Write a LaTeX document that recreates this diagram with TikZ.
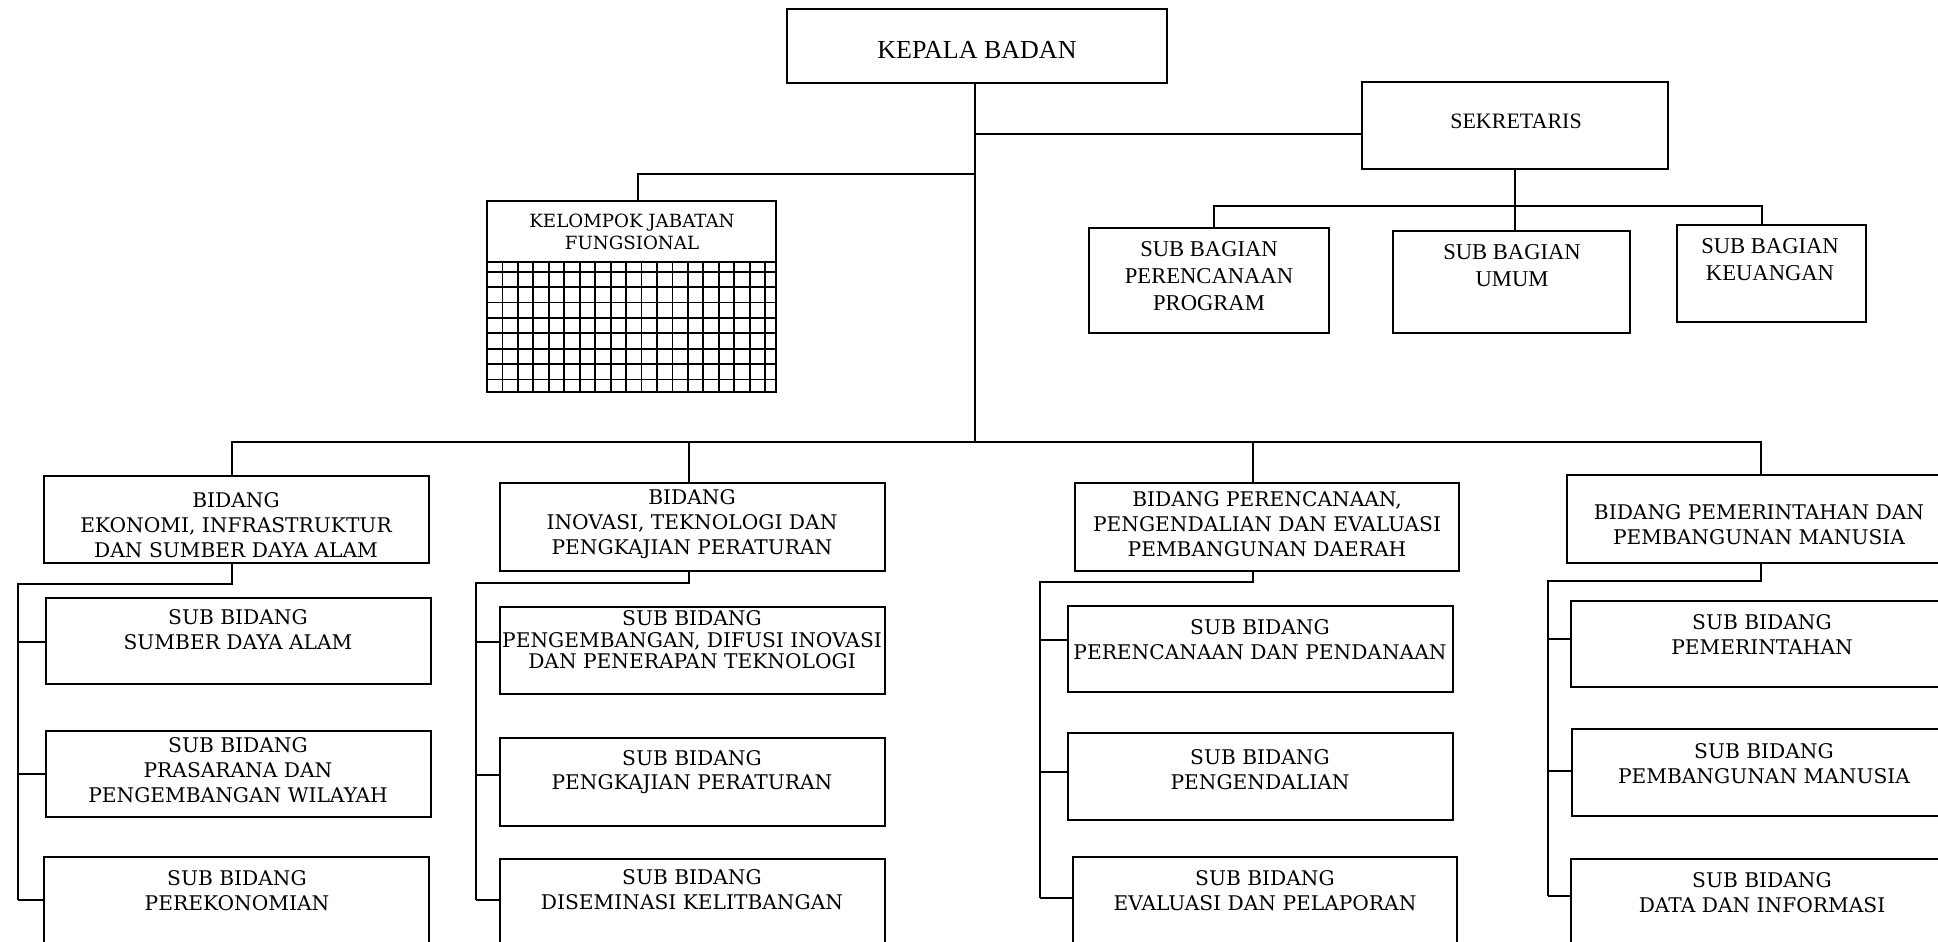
\documentclass[tikz,border=0pt]{standalone}
\usepackage{fontspec}
\newfontfamily\topfont{Liberation Serif}
\newfontfamily\bodyfont{DejaVu Serif}
\usetikzlibrary{fit}
\newcommand\obox[5]{\path (#2,#3) coordinate (#1-a) (#4,#5) coordinate (#1-b);
  \node[bx, fit=(#1-a)(#1-b)] (#1) {};}
\tikzset{
  bx/.style={draw, line width=1pt, inner sep=0pt, outer sep=0pt, rectangle},
  conn/.style={line width=1pt},
  gridline/.style={line width=0.9pt},
  lbl/.style={align=center, inner sep=0pt, font=\bodyfont\fontsize{10.1}{12.4}\selectfont},
  lbltight/.style={align=center, inner sep=0pt, font=\bodyfont\fontsize{10.1}{10.8}\selectfont},
  lblk/.style={align=center, inner sep=0pt, font=\bodyfont\fontsize{9.1}{10.8}\selectfont},
  lbltop/.style={align=center, inner sep=0pt, font=\topfont\fontsize{11.3}{13.5}\selectfont},
}
\begin{document}
\begin{tikzpicture}[x=0.5pt, y=-0.5pt]
\useasboundingbox (0,0) rectangle (1938,942);
\clip (0,0) rectangle (1938,942);
% ---------- top ----------
\obox{kepala}{787}{9}{1167}{83}
\node[lbltop, font=\topfont\fontsize{13}{15}\selectfont] (kepala-t) at (977,50) {KEPALA BADAN};
\obox{sek}{1362}{82}{1668}{169}
\node[lbltop, font=\topfont\fontsize{11}{13}\selectfont] (sek-t) at (1516,121) {SEKRETARIS};
\obox{sbp}{1089}{228}{1329}{333}
\node[lbltop] (sbp-t) at (1209,276) {SUB BAGIAN\\PERENCANAAN\\PROGRAM};
\obox{sbu}{1393}{231}{1630}{333}
\node[lbltop] (sbu-t) at (1512,266) {SUB BAGIAN\\UMUM};
\obox{sbk}{1677}{225}{1866}{322}
\node[lbltop] (sbk-t) at (1770,260) {SUB BAGIAN\\KEUANGAN};
% kelompok jabatan fungsional
\obox{kjf}{487}{201}{776}{392}
\node[lblk] (kjf-t) at (632,232) {KELOMPOK JABATAN\\FUNGSIONAL};
\draw[conn] (487,262) -- (776,262);
\foreach \k in {1,...,18} \draw[gridline] ({487+15.45*\k},262) -- ({487+15.45*\k},392);
\foreach \j in {0,...,7} \draw[gridline] (487,{271.7+15.4*\j}) -- (776,{271.7+15.4*\j});
% ---------- top connectors ----------
\coordinate (trunk) at (975,442);
\coordinate (sekj) at (975,134);
\coordinate (kj) at (638,174);
\coordinate (sbL) at (1214,206);
\coordinate (sbR) at (1762,206);
\draw[conn] (trunk |- kepala.south) -- (trunk);
\draw[conn] (sekj) -- (sekj -| sek.west);
\draw[conn] (kj -| trunk) -- (kj) -- (kj |- kjf.north);
\draw[conn] (sek.south) -- (sek.south |- sbu.north);
\draw[conn] (sbL |- sbp.north) -- (sbL) -- (sbR) -- (sbR |- sbk.north);
% ---------- bidang ----------
\obox{b1}{44}{476}{429}{563}
\node[lbl] (b1-t) at (236,525) {BIDANG\\EKONOMI, INFRASTRUKTUR\\DAN SUMBER DAYA ALAM};
\obox{b2}{500}{483}{885}{571}
\node[lbl] (b2-t) at (692,524) {BIDANG\\INOVASI, TEKNOLOGI DAN\\PENGKAJIAN PERATURAN};
\obox{b3}{1075}{483}{1459}{571}
\node[lbl] (b3-t) at (1267,524) {BIDANG PERENCANAAN,\\PENGENDALIAN DAN EVALUASI\\PEMBANGUNAN DAERAH};
\obox{b4}{1567}{475}{1952}{563}
\node[lbl] (b4-t) at (1759,525) {BIDANG PEMERINTAHAN DAN\\PEMBANGUNAN MANUSIA};
% sub bidang column 1
\obox{s11}{46}{598}{431}{684}
\node[lbl] (s11-t) at (238,630) {SUB BIDANG\\SUMBER DAYA ALAM};
\obox{s12}{46}{731}{431}{817}
\node[lbl] (s12-t) at (238,770) {SUB BIDANG\\PRASARANA DAN\\PENGEMBANGAN WILAYAH};
\obox{s13}{44}{857}{429}{945}
\node[lbl] (s13-t) at (237,891) {SUB BIDANG\\PEREKONOMIAN};
% column 2
\obox{s21}{500}{607}{885}{694}
\node[lbltight] (s21-t) at (692,640) {SUB BIDANG\\PENGEMBANGAN, DIFUSI INOVASI\\DAN PENERAPAN TEKNOLOGI};
\obox{s22}{500}{738}{885}{826}
\node[lbl] (s22-t) at (692,772) {SUB BIDANG\\PENGKAJIAN PERATURAN};
\obox{s23}{500}{859}{885}{946}
\node[lbl] (s23-t) at (692,890) {SUB BIDANG\\DISEMINASI KELITBANGAN};
% column 3
\obox{s31}{1068}{606}{1453}{692}
\node[lbl] (s31-t) at (1260,640) {SUB BIDANG\\PERENCANAAN DAN PENDANAAN};
\obox{s32}{1068}{733}{1453}{820}
\node[lbl] (s32-t) at (1260,770) {SUB BIDANG\\PENGENDALIAN};
\obox{s33}{1073}{857}{1457}{945}
\node[lbl] (s33-t) at (1265,891) {SUB BIDANG\\EVALUASI DAN PELAPORAN};
% column 4
\obox{s41}{1571}{601}{1953}{687}
\node[lbl] (s41-t) at (1762,635) {SUB BIDANG\\PEMERINTAHAN};
\obox{s42}{1572}{729}{1953}{816}
\node[lbl] (s42-t) at (1764,764) {SUB BIDANG\\PEMBANGUNAN MANUSIA};
\obox{s43}{1571}{859}{1953}{946}
\node[lbl] (s43-t) at (1762,893) {SUB BIDANG\\DATA DAN INFORMASI};
% ---------- bus ----------
\coordinate (c1) at (232,442);
\coordinate (c2) at (689,442);
\coordinate (c3) at (1253,442);
\coordinate (c4) at (1761,442);
\draw[conn] (c1 |- b1.north) -- (c1) -- (c4) -- (c4 |- b4.north);
\draw[conn] (c2) -- (c2 |- b2.north);
\draw[conn] (c3) -- (c3 |- b3.north);
% ---------- column connectors ----------
% column 1
\coordinate (d1) at (232,584);
\coordinate (l1) at (18,584);
\coordinate (l1a) at (18,642);
\coordinate (l1b) at (18,774);
\coordinate (l1c) at (18,900);
\draw[conn] (d1 |- b1.south) -- (d1) -- (l1) -- (l1c);
\draw[conn] (l1a) -- (l1a -| s11.west);
\draw[conn] (l1b) -- (l1b -| s12.west);
\draw[conn] (l1c) -- (l1c -| s13.west);
% column 2
\coordinate (d2) at (689,583);
\coordinate (l2) at (476,583);
\coordinate (l2a) at (476,642);
\coordinate (l2b) at (476,775);
\coordinate (l2c) at (476,900);
\draw[conn] (d2 |- b2.south) -- (d2) -- (l2) -- (l2c);
\draw[conn] (l2a) -- (l2a -| s21.west);
\draw[conn] (l2b) -- (l2b -| s22.west);
\draw[conn] (l2c) -- (l2c -| s23.west);
% column 3
\coordinate (d3) at (1253,582);
\coordinate (l3) at (1040,582);
\coordinate (l3a) at (1040,640);
\coordinate (l3b) at (1040,772);
\coordinate (l3c) at (1040,898);
\draw[conn] (d3 |- b3.south) -- (d3) -- (l3) -- (l3c);
\draw[conn] (l3a) -- (l3a -| s31.west);
\draw[conn] (l3b) -- (l3b -| s32.west);
\draw[conn] (l3c) -- (l3c -| s33.west);
% column 4
\coordinate (d4) at (1761,581);
\coordinate (l4) at (1548,581);
\coordinate (l4a) at (1548,639);
\coordinate (l4b) at (1548,771);
\coordinate (l4c) at (1548,896);
\draw[conn] (d4 |- b4.south) -- (d4) -- (l4) -- (l4c);
\draw[conn] (l4a) -- (l4a -| s41.west);
\draw[conn] (l4b) -- (l4b -| s42.west);
\draw[conn] (l4c) -- (l4c -| s43.west);
\end{tikzpicture}
\end{document}
